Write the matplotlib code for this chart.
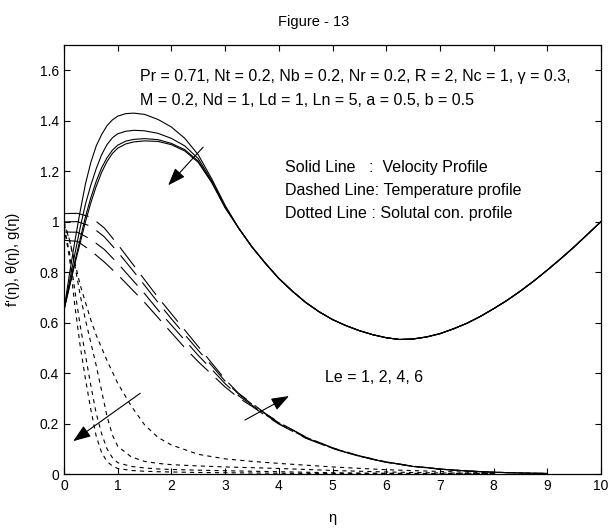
import matplotlib
matplotlib.use('Agg')
import matplotlib.pyplot as plt

plt.rcParams.update({
    'font.family': ['Liberation Sans', 'DejaVu Sans'],
    'font.size': 10,
    'lines.scale_dashes': False,
    'axes.unicode_minus': False,
})

# --- Datos ---
# Velocidad f'(η): tramo inicial distinto por curva, cola común
eta_vel_head = [0, 0.1, 0.2, 0.3, 0.4, 0.5, 0.6, 0.7, 0.8, 0.9, 1.0,
                1.15, 1.3, 1.5, 1.75, 2.0, 2.25, 2.5, 2.75, 3.0]
eta_vel_tail = [3.25, 3.5, 3.75, 4.0, 4.25, 4.5, 4.75, 5.0, 5.25, 5.5, 5.75,
                6.0, 6.25, 6.5, 6.75, 7.0, 7.25, 7.5, 7.75, 8.0, 8.25, 8.5,
                8.75, 9.0, 9.25, 9.5, 9.75, 10.0]
vel_tail = [0.975, 0.90, 0.835, 0.775, 0.725, 0.68, 0.643, 0.612, 0.588,
            0.568, 0.552, 0.54, 0.533, 0.535, 0.543, 0.556, 0.575, 0.597,
            0.624, 0.655, 0.688, 0.725, 0.765, 0.808, 0.853, 0.90, 0.95, 1.0]
vel_le1 = [0.65, 0.79, 0.92, 1.04, 1.15, 1.235, 1.30, 1.345, 1.38, 1.403,
           1.418, 1.428, 1.43, 1.425, 1.405, 1.375, 1.33, 1.265, 1.17, 1.065]
vel_le2 = [0.65, 0.76, 0.87, 0.975, 1.07, 1.145, 1.21, 1.265, 1.305, 1.332,
           1.348, 1.358, 1.362, 1.36, 1.35, 1.33, 1.30, 1.25, 1.162, 1.06]
vel_le4 = [0.65, 0.745, 0.84, 0.93, 1.02, 1.095, 1.16, 1.213, 1.253, 1.283,
           1.303, 1.319, 1.326, 1.329, 1.325, 1.31, 1.285, 1.24, 1.158, 1.057]
vel_le6 = [0.65, 0.74, 0.83, 0.915, 1.0, 1.075, 1.14, 1.195, 1.238, 1.27,
           1.291, 1.308, 1.316, 1.32, 1.318, 1.305, 1.28, 1.235, 1.155, 1.055]

# Temperatura θ(η)
eta_temp = [0, 0.25, 0.5, 0.75, 1.0, 1.25, 1.5, 1.75, 2.0, 2.25, 2.5, 2.75,
            3.0, 3.25, 3.5, 3.75, 4.0, 4.5, 5.0, 5.5, 6.0, 6.5, 7.0, 7.5,
            8.0, 8.5, 9.0]
temp_le1 = [1.032, 1.033, 1.018, 0.975, 0.91, 0.84, 0.77, 0.70, 0.635, 0.57,
            0.505, 0.44, 0.375, 0.32, 0.28, 0.24, 0.205, 0.147, 0.104, 0.072,
            0.048, 0.031, 0.02, 0.012, 0.007, 0.004, 0.002]
temp_le2 = [0.999, 1.0, 0.982, 0.94, 0.88, 0.815, 0.748, 0.68, 0.615, 0.552,
            0.49, 0.43, 0.368, 0.317, 0.277, 0.238, 0.203, 0.146, 0.103, 0.071,
            0.047, 0.031, 0.02, 0.012, 0.007, 0.004, 0.002]
temp_le4 = [0.959, 0.958, 0.93, 0.89, 0.835, 0.775, 0.715, 0.65, 0.59, 0.53,
            0.47, 0.415, 0.358, 0.31, 0.273, 0.235, 0.2, 0.144, 0.102, 0.07,
            0.047, 0.03, 0.019, 0.012, 0.007, 0.004, 0.002]
temp_le6 = [0.926, 0.922, 0.885, 0.84, 0.79, 0.735, 0.68, 0.62, 0.56, 0.50,
            0.445, 0.395, 0.345, 0.302, 0.268, 0.232, 0.198, 0.142, 0.101, 0.07,
            0.046, 0.03, 0.019, 0.012, 0.007, 0.004, 0.002]

# Concentración solutal g(η)
eta_conc = [0, 0.1, 0.2, 0.3, 0.4, 0.5, 0.6, 0.7, 0.8, 0.9, 1.0, 1.25, 1.5,
            1.75, 2.0, 2.5, 3.0, 3.5, 4.0, 5.0, 6.0, 7.0, 8.0]
conc_le6 = [0.98, 0.86, 0.67, 0.51, 0.375, 0.255, 0.15, 0.085, 0.05, 0.032,
            0.022, 0.014, 0.011, 0.009, 0.008, 0.006, 0.005, 0.004, 0.003,
            0.002, 0.001, 0.001, 0.0]
conc_le4 = [0.98, 0.88, 0.73, 0.59, 0.47, 0.35, 0.24, 0.16, 0.10, 0.065,
            0.045, 0.03, 0.024, 0.02, 0.018, 0.015, 0.013, 0.011, 0.009,
            0.005, 0.003, 0.002, 0.001]
conc_le2 = [0.99, 0.93, 0.83, 0.71, 0.61, 0.52, 0.43, 0.33, 0.23, 0.155,
            0.11, 0.068, 0.05, 0.042, 0.037, 0.032, 0.028, 0.025, 0.022,
            0.014, 0.008, 0.004, 0.002]
conc_le1 = [1.0, 0.93, 0.84, 0.75, 0.68, 0.61, 0.55, 0.5, 0.45, 0.405, 0.36,
            0.27, 0.195, 0.145, 0.115, 0.078, 0.06, 0.05, 0.042, 0.028,
            0.017, 0.01, 0.005]

x_ticks = [0, 1, 2, 3, 4, 5, 6, 7, 8, 9, 10]
y_ticks = [0, 0.2, 0.4, 0.6, 0.8, 1.0, 1.2, 1.4, 1.6]
y_ticklabels = ['0', '0.2', '0.4', '0.6', '0.8', '1', '1.2', '1.4', '1.6']

# --- Figura ---
fig = plt.figure(figsize=(6.08, 5.29), dpi=100)
ax = fig.add_axes([64 / 608, 55 / 529, 537 / 608, 429 / 529])

lw = 0.8
for v in (vel_le1, vel_le2, vel_le4, vel_le6):
    ax.plot(eta_vel_head + eta_vel_tail, v + vel_tail, color='k', lw=lw,
            linestyle='-')

dash_long = (0, (18, 7))
for t in (temp_le1, temp_le2, temp_le4, temp_le6):
    ax.plot(eta_temp, t, color='k', lw=lw, linestyle=dash_long)

dash_short = (0, (3, 3))
for c in (conc_le1, conc_le2, conc_le4, conc_le6):
    ax.plot(eta_conc, c, color='k', lw=lw, linestyle=dash_short)

# Flechas (sentido de Le creciente)
arrow = dict(arrowstyle='-|>,head_length=0.6,head_width=0.22', color='k',
             lw=0.8, mutation_scale=18, shrinkA=0, shrinkB=0)
ax.annotate('', xy=(1.94, 1.144), xytext=(2.59, 1.295), arrowprops=arrow)
ax.annotate('', xy=(4.19, 0.309), xytext=(3.37, 0.214), arrowprops=arrow)
ax.annotate('', xy=(0.17, 0.13), xytext=(1.42, 0.32), arrowprops=arrow)

# Textos
txt = 11.5
ax.text(1.42, 1.576, 'Pr = 0.71, Nt = 0.2, Nb = 0.2, Nr = 0.2, R = 2, Nc = 1, '
        'γ = 0.3,', fontsize=txt, va='center', ha='left')
ax.text(1.42, 1.48, 'M = 0.2, Nd = 1, Ld = 1, Ln = 5, a = 0.5, b = 0.5',
        fontsize=txt, va='center', ha='left')
ax.text(4.12, 1.215, 'Solid Line   :  Velocity Profile', fontsize=txt,
        va='center', ha='left')
ax.text(4.12, 1.124, 'Dashed Line: Temperature profile', fontsize=txt,
        va='center', ha='left')
ax.text(4.12, 1.033, 'Dotted Line : Solutal con. profile', fontsize=txt,
        va='center', ha='left')
ax.text(4.86, 0.384, 'Le = 1, 2, 4, 6', fontsize=txt, va='center', ha='left')

# Ejes estilo MATLAB
ax.set_xlim(0, 10)
ax.set_ylim(0, 1.7)
ax.set_xticks(x_ticks)
ax.set_yticks(y_ticks)
ax.set_yticklabels(y_ticklabels)
ax.tick_params(direction='in', top=True, right=True, length=4, width=0.8,
               labelsize=10)
for s in ax.spines.values():
    s.set_linewidth(0.9)

ax.set_xlabel('η', fontsize=10.5, labelpad=13)
ax.set_ylabel("f'(η), θ(η), g(η)", fontsize=10.5, labelpad=14)

fig.text(314 / 608, 1 - 22 / 529, 'Figure - 13', ha='center', va='center',
         fontsize=10.5)

fig.savefig('out.png', dpi=100)
plt.close(fig)
